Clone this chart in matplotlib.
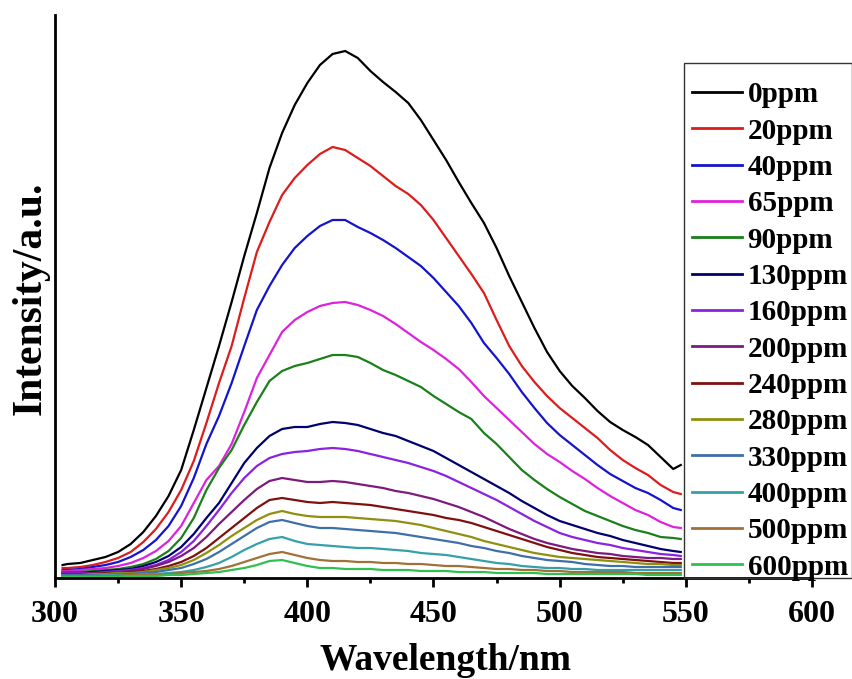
import matplotlib
matplotlib.use("Agg")
import matplotlib.pyplot as plt
from matplotlib.ticker import MultipleLocator
from matplotlib.patches import Rectangle

wavelength = [303, 305, 310, 315, 320, 325, 330, 335, 340, 345, 350, 355, 360, 365, 370,
              375, 380, 385, 390, 395, 400, 405, 410, 415, 420, 425, 430, 435, 440, 445,
              450, 455, 460, 465, 470, 475, 480, 485, 490, 495, 500, 505, 510, 515, 520,
              525, 530, 535, 540, 545, 548]

labels = ["0ppm", "20ppm", "40ppm", "65ppm", "90ppm", "130ppm", "160ppm", "200ppm",
          "240ppm", "280ppm", "330ppm", "400ppm", "500ppm", "600ppm"]

colors = ["#000000", "#dd1c1c", "#1414cc", "#dd22dd", "#1a801a", "#00006e", "#8a22e0",
          "#7d1a7d", "#7f1010", "#8f8f10", "#3f6fa8", "#35a0a8", "#a07038", "#30c050"]

i_0 = [13, 14, 15, 18, 21, 26, 34, 46, 62, 82, 108, 148, 190, 232, 276, 322, 365, 410, 445, 473,
       495, 513, 524, 527, 520, 507, 496, 486, 475, 458, 438, 418, 396, 375, 355, 330, 302, 276,
       250, 226, 207, 192, 180, 167, 156, 148, 141, 133, 121, 109, 113]
i_20 = [10, 10, 11, 13, 16, 20, 26, 36, 49, 66, 88, 117, 155, 195, 232, 280, 326, 356, 383, 400,
        413, 424, 431, 428, 420, 412, 402, 392, 384, 373, 358, 340, 322, 304, 285, 258, 232, 212,
        196, 182, 170, 160, 150, 140, 128, 118, 110, 103, 93, 86, 84]
i_40 = [8, 8, 9, 11, 13, 16, 21, 28, 38, 52, 72, 100, 134, 162, 195, 232, 268, 292, 313, 330,
        342, 352, 358, 358, 351, 345, 338, 330, 321, 312, 300, 286, 272, 255, 235, 220, 204, 186,
        170, 155, 143, 133, 123, 113, 104, 97, 90, 85, 78, 70, 68]
i_65 = [7, 7, 8, 9, 10, 12, 15, 20, 27, 37, 52, 75, 98, 112, 134, 166, 200, 223, 246, 258,
        266, 272, 275, 276, 273, 268, 262, 254, 245, 236, 228, 219, 209, 196, 182, 170, 158, 146,
        134, 124, 116, 107, 99, 90, 82, 75, 68, 63, 56, 51, 50]
i_90 = [6, 6, 6, 7, 8, 9, 11, 14, 19, 27, 40, 60, 88, 110, 128, 153, 176, 197, 207, 212,
        215, 219, 223, 223, 221, 215, 208, 203, 197, 191, 182, 174, 166, 159, 145, 134, 121, 108,
        98, 89, 81, 74, 67, 62, 57, 52, 48, 45, 41, 40, 39]
i_130 = [5, 5, 5, 6, 7, 8, 9, 12, 16, 22, 31, 44, 60, 75, 95, 115, 130, 142, 149, 151,
         151, 154, 156, 155, 153, 149, 145, 142, 137, 132, 127, 120, 113, 106, 99, 92, 85, 77,
         70, 63, 57, 53, 49, 45, 42, 38, 35, 32, 29, 27, 26]
i_160 = [5, 5, 5, 5, 6, 7, 8, 10, 13, 18, 26, 37, 52, 68, 85, 100, 112, 120, 124, 126,
         127, 129, 130, 129, 127, 124, 121, 118, 115, 111, 107, 102, 96, 90, 84, 78, 71, 64,
         57, 51, 45, 41, 38, 35, 33, 30, 28, 26, 24, 23, 22]
i_200 = [4, 4, 4, 5, 5, 6, 7, 9, 12, 16, 22, 30, 41, 54, 66, 78, 89, 97, 100, 98,
         96, 96, 97, 96, 94, 92, 90, 87, 85, 82, 79, 75, 71, 66, 61, 55, 49, 44,
         39, 35, 32, 29, 27, 25, 24, 22, 21, 20, 20, 19, 19]
i_240 = [4, 4, 4, 4, 5, 5, 6, 7, 9, 12, 16, 22, 30, 40, 50, 60, 70, 78, 80, 78,
         76, 75, 76, 75, 74, 73, 71, 69, 67, 65, 63, 60, 58, 55, 51, 47, 43, 39,
         35, 31, 28, 25, 23, 21, 20, 19, 18, 17, 16, 15, 15]
i_280 = [3, 3, 3, 4, 4, 5, 5, 6, 8, 10, 13, 18, 25, 33, 42, 50, 58, 64, 67, 64,
         62, 61, 61, 61, 60, 59, 58, 57, 55, 53, 50, 47, 44, 41, 37, 34, 31, 28,
         25, 23, 21, 20, 19, 18, 17, 16, 15, 14, 14, 13, 13]
i_330 = [3, 3, 3, 3, 3, 4, 4, 5, 6, 8, 10, 14, 19, 26, 34, 42, 50, 56, 58, 55,
         52, 50, 50, 49, 48, 47, 46, 45, 43, 41, 39, 37, 35, 32, 30, 27, 25, 22,
         20, 18, 17, 16, 14, 13, 12, 12, 11, 11, 11, 11, 11]
i_400 = [2, 2, 2, 2, 3, 3, 3, 4, 4, 5, 6, 8, 11, 15, 21, 28, 34, 39, 41, 37,
         34, 33, 32, 31, 30, 30, 29, 28, 27, 25, 24, 23, 21, 19, 17, 15, 14, 12,
         11, 10, 10, 9, 9, 8, 8, 8, 8, 8, 8, 8, 8]
i_500 = [2, 2, 2, 2, 2, 2, 3, 3, 3, 4, 5, 6, 7, 9, 12, 16, 20, 24, 26, 23,
         20, 18, 17, 17, 16, 16, 15, 15, 14, 14, 13, 12, 12, 11, 10, 9, 9, 8,
         8, 7, 7, 6, 6, 6, 6, 6, 5, 5, 5, 5, 5]
i_600 = [1, 1, 1, 1, 1, 1, 2, 2, 2, 3, 3, 4, 5, 6, 8, 10, 13, 17, 18, 15,
         12, 10, 10, 9, 9, 9, 8, 8, 8, 7, 7, 7, 6, 6, 6, 5, 5, 5,
         5, 4, 4, 4, 4, 4, 4, 4, 4, 3, 3, 3, 3]

series = [i_0, i_20, i_40, i_65, i_90, i_130, i_160, i_200, i_240, i_280, i_330, i_400, i_500, i_600]

plt.rcParams['font.family'] = ['Liberation Serif', 'DejaVu Serif']
plt.rcParams['font.weight'] = 'bold'

fig = plt.figure(figsize=(8.53, 6.79), dpi=100)
ax = fig.add_axes([55/853, 1 - 578/679, 757/853, 563/679])

for vals, lab, col in zip(series, labels, colors):
    ax.plot(wavelength, vals, color=col, lw=1.6, label=lab)

ax.set_xlim(300, 600)
ax.set_ylim(0, 563)
ax.spines['top'].set_visible(False)
ax.spines['right'].set_visible(False)
ax.spines['left'].set_linewidth(2.0)
ax.spines['bottom'].set_linewidth(2.0)
ax.xaxis.set_major_locator(MultipleLocator(50))
ax.xaxis.set_minor_locator(MultipleLocator(25))
ax.tick_params(axis='x', which='major', direction='out', length=6.5, width=2.0,
               labelsize=23, pad=9)
ax.tick_params(axis='x', which='minor', direction='out', length=3.5, width=2.0)
ax.set_yticks([])
for t in ax.get_xticklabels():
    t.set_fontweight('bold')

ax.set_xlabel("Wavelength/nm", fontsize=27, fontweight='bold')
ax.xaxis.set_label_coords((446 - 55) / 757, (578 - 670) / 563)
ax.xaxis.label.set_va('baseline')
ax.set_ylabel("Intensity/a.u.", fontsize=30, fontweight='bold')
ax.yaxis.set_label_coords((31 - 55) / 757, (578 - 298) / 563)
ax.yaxis.label.set_va('center')

# legend box frame (spans from its top down to the x axis)
frame = Rectangle(((684 - 55) / 757, 0), (852 - 684) / 757, (578 - 63) / 563,
                  transform=ax.transAxes, fill=False, edgecolor='#333333',
                  linewidth=1.0, clip_on=False, zorder=5)
ax.add_patch(frame)

leg = ax.legend(loc='upper left', bbox_to_anchor=((682 - 55) / 757, (578 - 71) / 563),
                borderaxespad=0, prop={'weight': 'bold', 'size': 21},
                handlelength=1.7, handletextpad=0.2, labelspacing=0.32,
                borderpad=0.35, frameon=False)
for line in leg.get_lines():
    line.set_linewidth(2.0)

fig.savefig("out.png", dpi=100)
